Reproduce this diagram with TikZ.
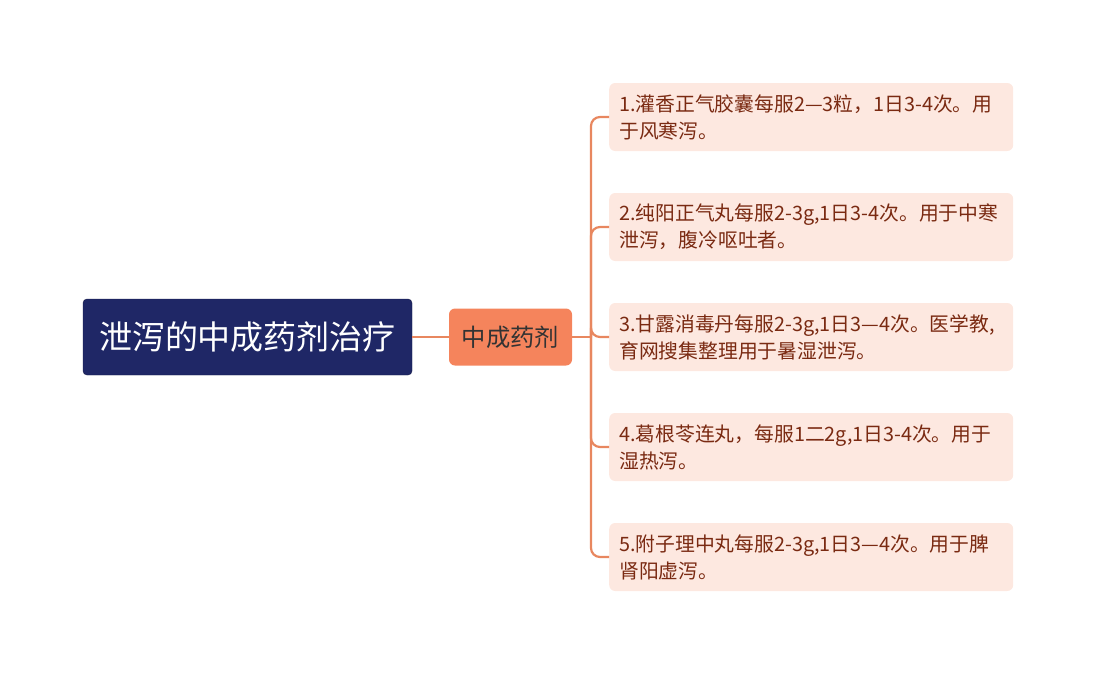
\documentclass[tikz,border=0pt]{standalone}
\usepackage{fontspec}
\newfontfamily\cjk{Noto Sans CJK SC}
\usepackage{tikz}
\usetikzlibrary{positioning}
\definecolor{rootblue}{HTML}{1F2766}
\definecolor{midorange}{HTML}{F5845C}
\definecolor{leafpink}{HTML}{FDE8E0}
\definecolor{leafbrown}{HTML}{7A2A12}
\definecolor{linkorange}{HTML}{E8875F}

\begin{document}
\begin{tikzpicture}[x=1pt,y=-1pt]
    \tikzstyle{topic}=[rectangle, rounded corners=4pt, draw=rootblue!70!black, fill=rootblue, text=white,
    minimum width=329pt, minimum height=76pt, font=\cjk\fontsize{33}{38}\selectfont]
    \tikzstyle{branch}=[rectangle, rounded corners=6pt, fill=midorange, text=black!80,
    minimum width=123pt, minimum height=57pt, font=\cjk\fontsize{24.3}{29}\selectfont]
    \tikzstyle{leaf}=[rectangle, rounded corners=6pt, fill=leafpink, text=leafbrown, anchor=west,
    text width=384pt, inner xsep=10pt, align=left, minimum height=68pt,
    font=\cjk\fontsize{19.8}{27}\selectfont]
    \tikzstyle{link}=[draw=linkorange, line width=2.2pt]
\useasboundingbox (0,0) rectangle (1096,675);

\node[topic] (root) at (247.5,337) {泄泻的中成药剂治疗};
\node[branch] (mid) at (510.5,337) {中成药剂};

\node[leaf] (l1) at (609,117) {1.灌香正气胶囊每服2—3粒，1日3-4次。用\\于风寒泻。};
\node[leaf] (l2) at (609,227) {2.纯阳正气丸每服2-3g,1日3-4次。用于中寒\\泄泻，腹冷呕吐者。};
\node[leaf] (l3) at (609,337) {3.甘露消毒丹每服2-3g,1日3—4次。医学教,\\育网搜集整理用于暑湿泄泻。};
\node[leaf] (l4) at (609,447) {4.葛根苓连丸，每服1二2g,1日3-4次。用于\\湿热泻。};
\node[leaf] (l5) at (609,557) {5.附子理中丸每服2-3g,1日3—4次。用于脾\\肾阳虚泻。};

\coordinate (trunk) at (591,337);
\draw[link] (root.east) -- (mid.west);
\draw[link] (mid.east) -- (trunk);
\foreach \i in {1,...,5}
    \draw[link, rounded corners=9pt] (trunk) |- (l\i.west);

\end{tikzpicture}
\end{document}
